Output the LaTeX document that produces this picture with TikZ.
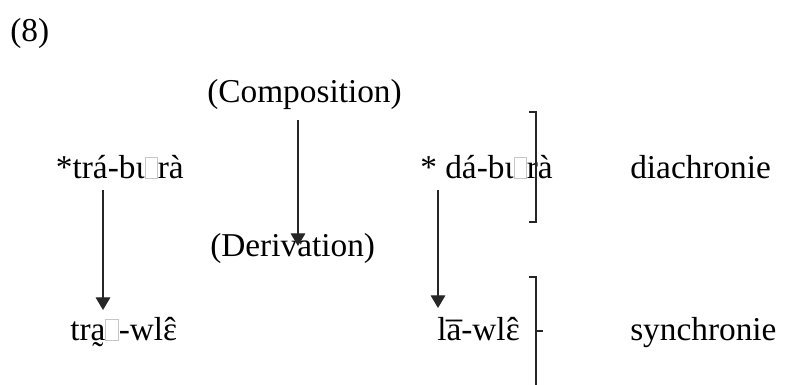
\documentclass[tikz,border=0pt]{standalone}
\usepackage{fontspec}
\setmainfont{Liberation Serif}
\usetikzlibrary{arrows.meta}
% placeholder box for a glyph the source font could not show
\newcommand{\nobox}{{\color{gray!45}\fboxrule=0.5pt\fboxsep=0pt\fbox{\phantom{\rule{0.36em}{0.62em}}}}}
% open e with a circumflex centred over it
\newcommand{\epscirc}{\ooalign{ɛ\cr\hidewidth ˆ\hidewidth\cr}}
\begin{document}
\begin{tikzpicture}[x=0.75pt,y=-0.75pt,
  lbl/.style={inner sep=0pt,font=\fontsize{25}{30}\selectfont},
  arr/.style={draw=black!85,line width=0.9pt,-{Triangle[width=11pt,length=9.5pt]}},
  brk/.style={draw=black!85,line width=0.8pt}]
\useasboundingbox (0,0) rectangle (803,385);
% labels
\node[lbl,anchor=base west] (num)   at (10,42)   {(8)};
\node[lbl,anchor=base west] (comp)  at (207,103) {(Composition)};
\node[lbl,anchor=base west] (deriv) at (210,256) {(Derivation)};
\node[lbl,anchor=base east] (trab)  at (184,178) {*trá-bɩ\nobox rà};
\node[lbl,anchor=base east] (dab)   at (553,178) {* dá-bɩ\nobox rà};
\node[lbl,anchor=base west] (dia)   at (630,178) {diachronie};
\node[lbl,anchor=base west] (traw)  at (70,340)  {tra̰\nobox-wl\epscirc};
\node[lbl,anchor=base west] (law)   at (437,340) {la̅-wl\epscirc};
\node[lbl,anchor=base west] (syn)   at (630,340) {synchronie};
% arrow end points
\coordinate (l1) at (103,190);  \coordinate (l2) at (103,310);
\coordinate (m1) at (298,120);  \coordinate (m2) at (298,246);
\coordinate (r1) at (438,190);  \coordinate (r2) at (438,308);
\draw[arr] (l1) -- (l2);
\draw[arr] (m1) -- (m2);
\draw[arr] (r1) -- (r2);
% brackets
\coordinate (b1) at (536,112); \coordinate (b2) at (536,222);
\draw[brk] ([xshift=-5pt]b1) -- (b1) -- (b2) -- ([xshift=-5pt]b2);
\coordinate (c1) at (536,277); \coordinate (c2) at (536,385); \coordinate (c3) at (536,331);
\draw[brk] ([xshift=-5pt]c1) -- (c1) -- (c2);
\draw[brk] (c3) -- ([xshift=5pt]c3);
\end{tikzpicture}
\end{document}
